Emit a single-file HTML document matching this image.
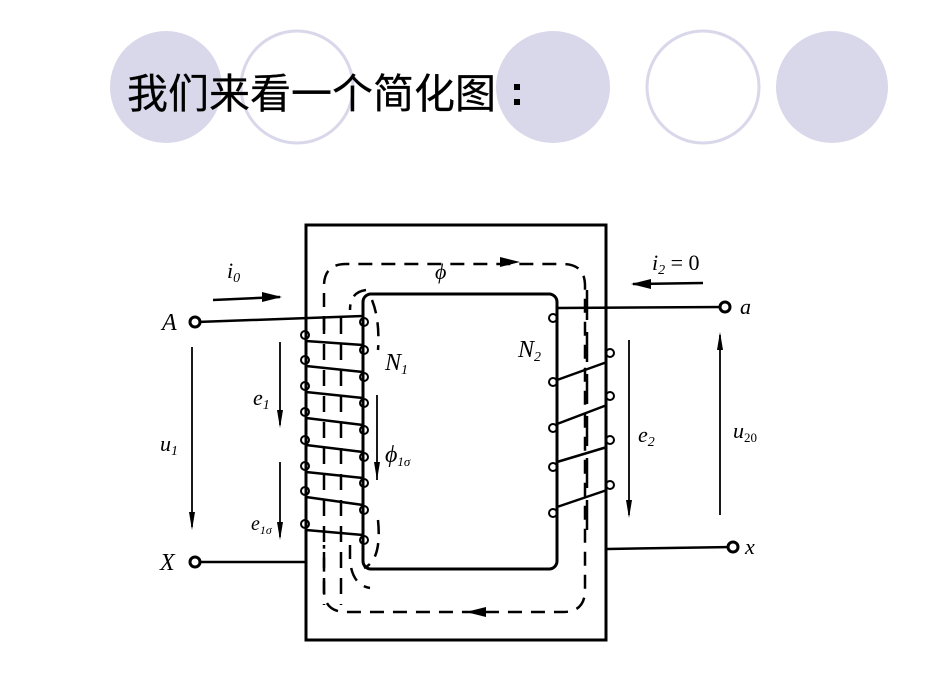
<!DOCTYPE html>
<html><head><meta charset="utf-8"><style>
html,body{margin:0;padding:0;background:#fff;}
body{width:950px;height:700px;overflow:hidden;position:relative;}
svg{position:absolute;left:0;top:0;}
</style></head><body>
<svg width="950" height="700" viewBox="0 0 950 700" xmlns="http://www.w3.org/2000/svg">
<g>
<ellipse cx="166" cy="87" rx="56" ry="56" fill="#d9d7ea"/>
<ellipse cx="297" cy="87" rx="56" ry="56" fill="none" stroke="#d9d7ea" stroke-width="3"/>
<ellipse cx="553" cy="87" rx="57" ry="56" fill="#d9d7ea"/>
<ellipse cx="703" cy="87" rx="56" ry="56" fill="none" stroke="#d9d7ea" stroke-width="3"/>
<ellipse cx="832" cy="87" rx="56" ry="56" fill="#d9d7ea"/>
</g>
<text x="127" y="108" font-family="'Liberation Sans','Noto Sans CJK SC',sans-serif" font-size="41" fill="#000" stroke="#000" stroke-width="0.25">我们来看一个简化图</text>
<rect x="514" y="84" width="6" height="6" fill="#000"/>
<rect x="514" y="99" width="6" height="6" fill="#000"/>

<g stroke="#000" fill="none" stroke-width="3">
<rect x="306" y="225" width="300" height="415"/>
<rect x="363" y="294" width="194" height="275" rx="8"/>
</g>
<g stroke="#000" fill="none" stroke-width="2.5" stroke-dasharray="14,9">
<path d="M324 330 L324 286 Q324 264 346 264 L563 264 Q585 264 585 286 L585 590 Q585 612 563 612 L346 612 Q324 612 324 590 L324 545"/>
<path d="M366 290 Q350 292 350 310 M350 545 L350 560 Q352 585 370 588"/>
<path d="M372 300 Q380 320 378 350 M378 520 Q382 560 364 568"/>
</g>
<g fill="#000">
<polygon points="520,262 500,257 500,267"/>
<polygon points="466,612 486,607 486,617"/>
</g>

<g stroke="#000" fill="none" stroke-width="2.5">
<line x1="197" y1="322" x2="363" y2="316"/>
<line x1="197" y1="562" x2="306" y2="562"/>
<line x1="324" y1="318" x2="324" y2="605" stroke-dasharray="16,10"/>
<line x1="341" y1="318" x2="341" y2="605" stroke-dasharray="16,10"/>
<line x1="306" y1="341" x2="363" y2="345"/>
<line x1="306" y1="366" x2="363" y2="372"/>
<line x1="306" y1="392" x2="363" y2="398"/>
<line x1="306" y1="418" x2="363" y2="425"/>
<line x1="306" y1="445" x2="363" y2="452"/>
<line x1="306" y1="472" x2="363" y2="478"/>
<line x1="306" y1="497" x2="363" y2="505"/>
<line x1="306" y1="530" x2="363" y2="535"/>
</g>
<g stroke="#000" fill="none" stroke-width="2">
<circle cx="305" cy="335" r="4"/><circle cx="305" cy="360" r="4"/><circle cx="305" cy="386" r="4"/><circle cx="305" cy="412" r="4"/><circle cx="305" cy="440" r="4"/><circle cx="305" cy="466" r="4"/><circle cx="305" cy="491" r="4"/><circle cx="305" cy="524" r="4"/>
<circle cx="364" cy="322" r="4"/><circle cx="364" cy="350" r="4"/><circle cx="364" cy="377" r="4"/><circle cx="364" cy="403" r="4"/><circle cx="364" cy="430" r="4"/><circle cx="364" cy="457" r="4"/><circle cx="364" cy="483" r="4"/><circle cx="364" cy="510" r="4"/><circle cx="364" cy="540" r="4"/>
</g>
<g stroke="#000" fill="none" stroke-width="2.5">
<line x1="557" y1="308" x2="725" y2="307"/>
<line x1="607" y1="549" x2="733" y2="547"/>
<line x1="587" y1="290" x2="587" y2="530" stroke-dasharray="30,12"/>
<line x1="557" y1="380" x2="607" y2="362"/>
<line x1="557" y1="424" x2="607" y2="405"/>
<line x1="557" y1="462" x2="607" y2="447"/>
<line x1="557" y1="507" x2="607" y2="490"/>
</g>
<g stroke="#000" fill="none" stroke-width="2">
<circle cx="553" cy="318" r="4"/><circle cx="553" cy="382" r="4"/><circle cx="553" cy="428" r="4"/><circle cx="553" cy="467" r="4"/><circle cx="553" cy="513" r="4"/>
<circle cx="610" cy="353" r="4"/><circle cx="610" cy="396" r="4"/><circle cx="610" cy="440" r="4"/><circle cx="610" cy="485" r="4"/>
</g>
<g stroke="#000" fill="#fff" stroke-width="3">
<circle cx="195" cy="322" r="5"/><circle cx="195" cy="562" r="5"/>
<circle cx="725" cy="307" r="5"/><circle cx="733" cy="547" r="5"/>
</g>
<g stroke="#000" stroke-width="1.8" fill="none">
<line x1="192" y1="347" x2="192" y2="527"/>
<line x1="280" y1="342" x2="280" y2="425"/>
<line x1="280" y1="462" x2="280" y2="537"/>
<line x1="377" y1="395" x2="377" y2="480"/>
<line x1="629" y1="340" x2="629" y2="515"/>
<line x1="720" y1="335" x2="720" y2="515"/>
<line x1="213" y1="300" x2="280" y2="297" stroke-width="2.5"/>
<line x1="633" y1="284" x2="703" y2="283" stroke-width="2.5"/>
</g>
<g fill="#000">
<polygon points="192,530 189,512 195,512"/>
<polygon points="280,428 277,410 283,410"/>
<polygon points="280,540 277,522 283,522"/>
<polygon points="377,480 374,462 380,462"/>
<polygon points="629,518 626,500 632,500"/>
<polygon points="720,332 717,350 723,350"/>
<polygon points="282,297 262,292 262,302"/>
<polygon points="631,284 651,279 651,289"/>
</g>
<g font-family="'Liberation Serif',serif" font-style="italic" fill="#000">
<text x="162" y="330" font-size="24">A</text>
<text x="160" y="570" font-size="24">X</text>
<text x="740" y="314" font-size="22">a</text>
<text x="745" y="554" font-size="22">x</text>
<text x="227" y="278" font-size="22">i<tspan font-size="14" dy="4">0</tspan></text>
<text x="435" y="279" font-size="22">ϕ</text>
<text x="652" y="270" font-size="22">i<tspan font-size="14" dy="4">2</tspan><tspan dy="-4" font-style="normal"> = 0</tspan></text>
<text x="385" y="370" font-size="24">N<tspan font-size="14" dy="4">1</tspan></text>
<text x="518" y="357" font-size="24">N<tspan font-size="14" dy="4">2</tspan></text>
<text x="253" y="405" font-size="22">e<tspan font-size="14" dy="4">1</tspan></text>
<text x="251" y="530" font-size="20">e<tspan font-size="12" dy="4">1σ</tspan></text>
<text x="385" y="462" font-size="24">ϕ<tspan font-size="13" dy="4">1σ</tspan></text>
<text x="160" y="451" font-size="22">u<tspan font-size="14" dy="4">1</tspan></text>
<text x="638" y="442" font-size="22">e<tspan font-size="14" dy="4">2</tspan></text>
<text x="733" y="438" font-size="22">u<tspan font-size="13" dy="4" font-style="normal">20</tspan></text>
</g>
</svg>
</body></html>
